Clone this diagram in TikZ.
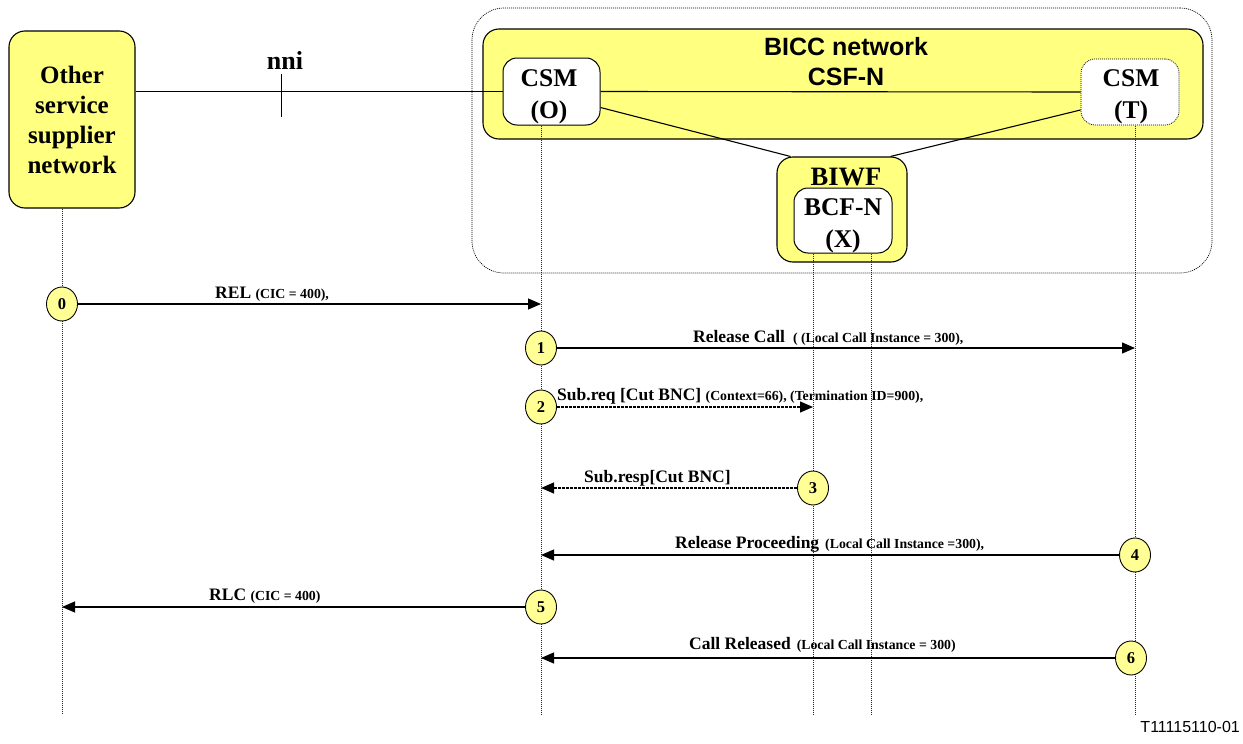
\documentclass[tikz,border=0pt]{standalone}
\usepackage{fontspec}
\setmainfont{Liberation Serif}
\newfontfamily\arialf{Liberation Sans}
\usetikzlibrary{arrows.meta,shapes.geometric}
\definecolor{ylw}{RGB}{255,255,128}
\definecolor{cyl}{RGB}{255,255,150}
\begin{document}
\begin{tikzpicture}[x=1pt,y=-1pt,
  ybox/.style={rectangle, draw=black, line width=1.1pt, fill=ylw, rounded corners=16pt, inner sep=0pt},
  wbox/.style={rectangle, draw=black, line width=1pt, fill=white, rounded corners=14pt, inner sep=0pt},
  dotbox/.style={rectangle, draw=black, line width=0.7pt, dash pattern=on 1pt off 1pt, inner sep=0pt},
  bigtxt/.style={align=center, inner sep=0pt, font=\fontsize{25.5}{32}\selectfont\bfseries},
  life/.style={line width=0.6pt, dash pattern=on 1pt off 1pt, black!85},
  conn/.style={line width=1.1pt},
  num/.style={ellipse, draw=black, line width=0.9pt, fill=cyl, minimum width=31pt, minimum height=34pt, inner sep=0pt, font=\fontsize{16.5}{16.5}\selectfont\bfseries},
  msg/.style={line width=1.2pt, -{Triangle[length=13pt,width=11pt]}},
  dmsg/.style={msg, dash pattern=on 3pt off 1pt},
  lbl/.style={anchor=base west, inner sep=0pt, font=\fontsize{17.5}{17.5}\selectfont\bfseries}]
\useasboundingbox (0,0) rectangle (1243,744);
\newcommand{\smtxt}[1]{{\fontsize{13.8}{13.8}\selectfont #1}}

% boxes
\node[ybox, minimum width=126pt, minimum height=177pt, align=center,
      font=\fontsize{25}{30}\selectfont\bfseries] (other) at (72,119.5)
      {Other\\service\\supplier\\network};
\node[dotbox, rounded corners=32pt, minimum width=740pt, minimum height=265pt] (bicco) at (842,140.5) {};
\node[ybox, minimum width=720pt, minimum height=110pt] (bicc) at (843,84) {};
\node[align=center, inner sep=0pt, font=\arialf\fontsize{25}{30}\selectfont\bfseries] (bicct) at (846,62) {BICC network\\CSF-N};
\node[wbox, minimum width=97pt, minimum height=67pt] (csmo) at (551.5,91.5) {};
\node[bigtxt] (csmot) at (549,97) {CSM\\(O)};
\node[wbox, draw=none, minimum width=98pt, minimum height=66pt] (csmt) at (1130,92) {};
\node[dotbox, rounded corners=14pt, minimum width=98pt, minimum height=66pt] (csmtb) at (1130,92) {};
\node[bigtxt] (csmtt) at (1131,97) {CSM\\(T)};
\node[ybox, minimum width=130pt, minimum height=105pt] (biwf) at (842,209.5) {};
\node[inner sep=0pt, font=\fontsize{26.5}{26.5}\selectfont\bfseries] (biwft) at (846,177) {BIWF};
\node[wbox, minimum width=98pt, minimum height=65pt] (bcf) at (843,220.5) {};
\node[bigtxt] (bcft) at (843,226) {BCF-N\\(X)};

% connectors
\draw[conn] (csmo.west -| other.east) -- (csmo.west);
\coordinate (nnitick) at (281,92);
\draw[conn, line width=0.9pt] ([yshift=18pt]nnitick) -- ([yshift=-25pt]nnitick);
\node[inner sep=0pt, font=\fontsize{26}{26}\selectfont\bfseries] (nni) at (285,60) {nni};
\draw[conn] (csmo.east) -- (csmt.west);
\draw[conn] ([yshift=-16pt]csmo.east) -- ([xshift=14pt]biwf.north west);
\draw[conn] ([yshift=-18pt]csmt.west) -- ([xshift=-17pt]biwf.north east);

% lifelines
\coordinate (xO) at (62,714);
\coordinate (xCO) at (541,714);
\coordinate (xB1) at (813,714);
\coordinate (xB2) at (871,714);
\coordinate (xCT) at (1135,714);
\draw[life] (other.south -| xO) -- (xO);
\draw[life] (csmo.south -| xCO) -- (xCO);
\draw[life] (bcf.south -| xB1) -- (xB1);
\draw[life] (bcf.south -| xB2) -- (xB2);
\draw[life] (csmt.south -| xCT) -- (xCT);

% step circles
\node[num] (c0) at (62,304) {0};
\node[num] (c1) at (541,348) {1};
\node[num] (c2) at (541,407) {2};
\node[num] (c3) at (813,488) {3};
\node[num] (c4) at (1135,555) {4};
\node[num] (c5) at (541,607) {5};
\node[num] (c6) at (1131,658) {6};

% messages
\draw[msg] (c0.east) -- (c0.east -| xCO);
\draw[msg] (c1.east) -- (c1.east -| xCT);
\draw[dmsg] (c2.east) -- (c2.east -| xB1);
\draw[dmsg] (c3.west) -- (c3.west -| xCO);
\draw[msg] (c4.west) -- (c4.west -| xCO);
\draw[msg] (c5.west) -- (c5.west -| xO);
\draw[msg] (c6.west) -- (c6.west -| xCO);

% labels
\node[lbl] (l0) at (215,298) {REL \smtxt{(CIC = 400),}};
\node[lbl] (l1) at (693,342) {Release Call\hspace{8pt}\smtxt{( (Local Call Instance = 300),}};
\node[lbl] (l2) at (557,400) {Sub.req [Cut BNC] \smtxt{(Context=66), (Termination ID=900),}};
\node[lbl] (l3) at (584,482) {Sub.resp[Cut BNC]};
\node[lbl] (l4) at (675,548) {Release Proceeding\hspace{6pt}\smtxt{(Local Call Instance =300),}};
\node[lbl] (l5) at (209,600.7) {RLC \smtxt{(CIC = 400)}};
\node[lbl] (l6) at (689,649) {Call Released\hspace{6pt}\smtxt{(Local Call Instance = 300)}};

\node[anchor=base east, inner sep=0pt, font=\arialf\fontsize{16}{16}\selectfont] (tid) at (1240,732) {T11115110-01};
\end{tikzpicture}
\end{document}
